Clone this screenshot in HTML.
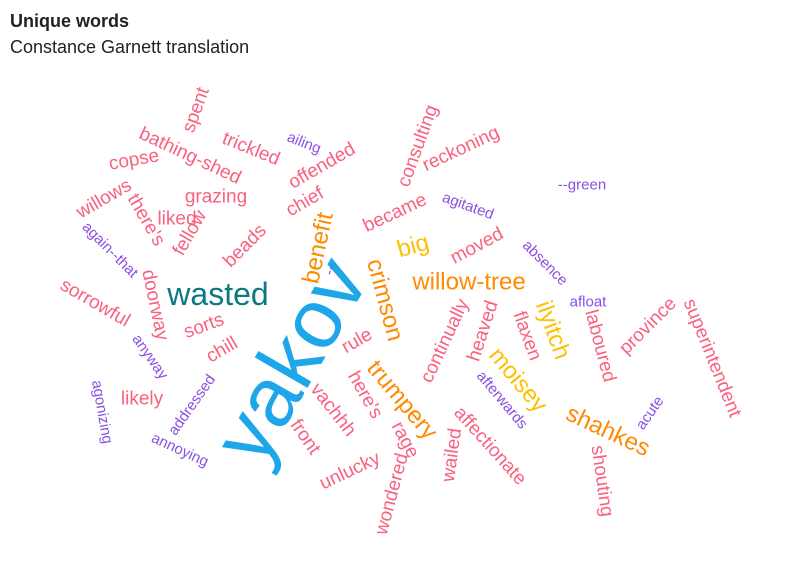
<!DOCTYPE html>
<html><head><meta charset="utf-8"><style>
body{margin:0;background:#fff;width:796px;height:575px;overflow:hidden;font-family:"Liberation Sans",sans-serif}
#t{position:absolute;left:10px;top:11px;font-weight:bold;font-size:18px;color:#222}
#s{position:absolute;left:10px;top:37px;font-size:18px;color:#222}
svg{position:absolute;left:0;top:0}
</style></head><body>
<div id="t">Unique words</div>
<div id="s">Constance Garnett translation</div>
<svg id="cloud" width="796" height="575"></svg>
<script>
const words=["yakov","wasted","benefit","--","crimson","big","willow-tree","became","consulting","reckoning","agitated","--green","moved","absence","afloat","ilyitch","superintendent","flaxen","heaved","continually","laboured","province","moisey","shahkes","acute","afterwards","affectionate","shouting","wailed","wondered","rage","trumpery","here's","rule","vachhh","front","unlucky","chill","sorts","addressed","annoying","likely","agonizing","anyway","sorrowful","doorway","again--that","there's","fellow","beads","liked","willows","grazing","copse","bathing-shed","spent","trickled","ailing","offended","chief"];
const counts=[9,5,3,1,3,4,3,2,2,2,1,1,2,1,1,3,2,2,2,2,2,2,3,3,1,1,2,2,2,2,2,3,2,2,2,2,2,2,2,1,1,2,1,1,2,2,1,2,2,2,2,2,2,2,2,2,2,1,2,2];
const groups=["b","t","o","p","o","y","o","k","k","k","p","p","k","p","p","y","k","k","k","k","k","k","y","o","p","p","k","k","k","k","k","o","k","k","k","k","k","k","k","p","p","k","p","p","k","k","p","k","k","k","k","k","k","k","k","k","k","p","k","k"];
const layout=[[290,360,-60],[218,294,0],[318,248,-78],[330,270,-75],[385,300,75],[413,246,-15],[469,282,0],[395,213,-25],[418,146,-70],[461,149,-25],[468,206,20],[582,185,0],[477,246,-28],[545,263,45],[588,302,0],[553,330,70],[712,358,68],[527,336,70],[483,331,-72],[445,341,-65],[600,346,75],[648,326,-45],[518,380,50],[608,431,25],[650,413,-55],[502,400,50],[490,446,48],[602,481,82],[452,455,-82],[392,494,-75],[405,440,62],[402,400,50],[365,395,60],[357,341,-30],[333,410,52],[305,437,55],[350,471,-25],[222,350,-30],[204,326,-20],[192,405,-55],[180,450,25],[142,399,0],[102,412,80],[150,357,55],[95,303,30],[155,305,78],[110,250,45],[146,220,60],[190,233,-60],[245,246,-45],[177,219,0],[104,199,-30],[216,197,0],[134,160,-10],[190,156,25],[196,110,-70],[251,149,22],[304,143,22],[322,166,-30],[305,202,-30]];
const colors={b:"#1ea7e8",t:"#0a7a80",o:"#ff8a00",y:"#ffc000",k:"#f9617f",p:"#8a4fe3"};
const sizeScale=c=>c>=9?84:c>=5?32:c>=3?24:c>=2?19:15;
const svg=document.getElementById('cloud');
words.forEach((w,i)=>{
  const [x,y,a]=layout[i];
  const t=document.createElementNS('http://www.w3.org/2000/svg','text');
  
  
  t.setAttribute('x',x);t.setAttribute('y',y);
  t.setAttribute('text-anchor','middle');t.setAttribute('dominant-baseline','central');
  t.setAttribute('font-size',sizeScale(counts[i]));
  t.setAttribute('fill',colors[groups[i]]);
  t.setAttribute('transform',`rotate(${a} ${x} ${y})`);
  t.textContent=w;svg.appendChild(t);
});
</script>
</body></html>
